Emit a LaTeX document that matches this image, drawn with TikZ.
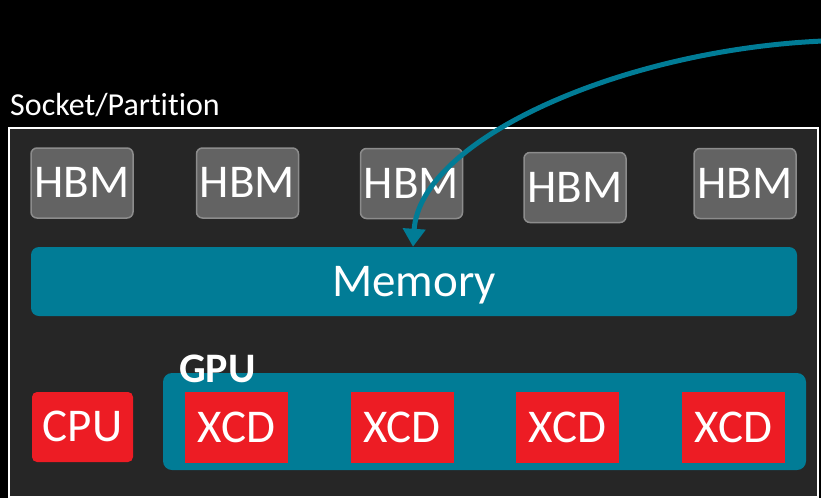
\documentclass[tikz,border=0pt]{standalone}
\usepackage{fontspec}
\setmainfont[Ligatures=NoCommon]{Carlito}
\usetikzlibrary{arrows.meta}
\definecolor{sockfill}{HTML}{262626}
\definecolor{hbmfill}{HTML}{636363}
\definecolor{hbmline}{HTML}{8C8C8C}
\definecolor{teal}{HTML}{017C96}
\definecolor{chipred}{HTML}{ED1C24}
\tikzset{
  lbl/.style={text=white, font=\fontsize{47}{50}\selectfont, inner sep=0pt,
    text height=29pt, text depth=0pt},
  hbm/.style={lbl, fill=hbmfill, draw=hbmline, line width=1.5pt,
    rounded corners=6pt, minimum width=102pt, minimum height=70pt},
  chip/.style={lbl, fill=chipred, minimum width=103pt, minimum height=71pt},
  tealbox/.style={fill=teal, rounded corners=9pt, inner sep=0pt},
}
\begin{document}
\begin{tikzpicture}[x=1pt, y=-1pt]
  % canvas
  \fill[black] (0,0) rectangle (821,498);
  \useasboundingbox (0,0) rectangle (821,498);

  % socket outline and caption
  \draw[white, line width=1.5pt, fill=sockfill] (9,128) rectangle (818,497);
  \node[anchor=base west, text=white, font=\fontsize{32}{36}\selectfont, inner sep=0pt]
    (socklbl) at (10,115) {Socket/Partition};

  % HBM stacks
  \node[hbm] (h1) at (82,183)    {HBM};
  \node[hbm] (h2) at (247.5,183) {HBM};
  \node[hbm] (h3) at (411.5,183.5) {HBM};
  \node[hbm] (h4) at (575,187.5) {HBM};
  \node[hbm] (h5) at (745,183.5) {HBM};

  % shared memory bar
  \node[tealbox, lbl, rounded corners=8pt, minimum width=766pt, minimum height=69pt]
    (mem) at (414,281.5) {Memory};

  % GPU container with its compute dies
  \node[tealbox, minimum width=643pt, minimum height=97pt] (gpu) at (484.5,421.5) {};
  \node[anchor=base west, text=white, font=\bfseries\fontsize{42}{46}\selectfont, inner sep=0pt]
    (gpulbl) at (179,382) {GPU};

  \node[chip, rounded corners=5pt, minimum width=101pt, minimum height=70pt] (cpu) at (82.5,427) {CPU};
  \node[chip] (x1) at (236.5,427.5) {XCD};
  \node[chip] (x2) at (402,427.5)   {XCD};
  \node[chip] (x3) at (567.5,427.5) {XCD};
  \node[chip] (x4) at (733.5,427.5) {XCD};

  % incoming access path into memory
  \coordinate (src) at (823,41);
  \coordinate (tip) at ([xshift=1.5pt]h3.center |- mem.north);
  \draw[teal, line width=5pt, -{Triangle[width=22pt,length=18pt]}]
    (src) .. controls (620,50) and (420,140) .. (tip);
\end{tikzpicture}
\end{document}
